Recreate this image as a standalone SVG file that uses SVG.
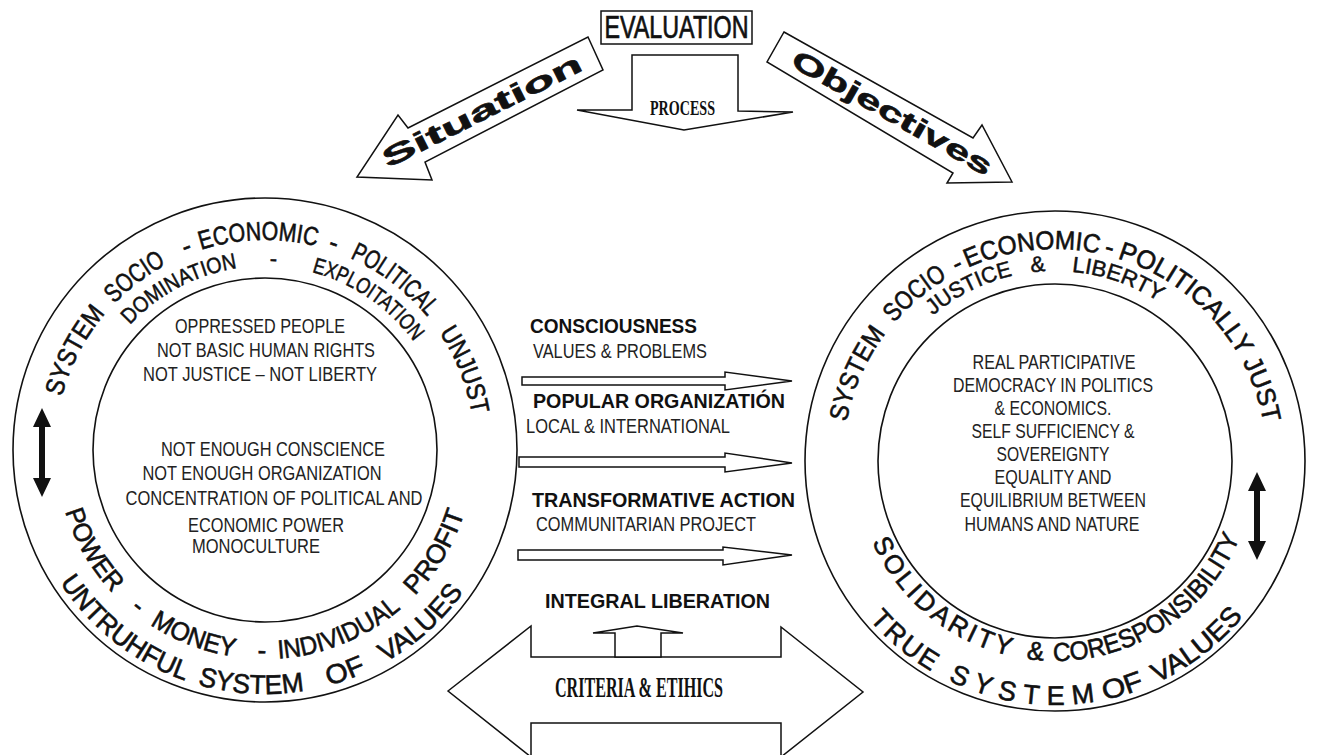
<svg xmlns="http://www.w3.org/2000/svg" width="1320" height="755" viewBox="0 0 1320 755">
<style>
.ring{fill:none;stroke:#111;stroke-width:1.6}
.rt{font-family:"Liberation Sans",Arial,sans-serif;font-size:26px;fill:#111;stroke:#111;stroke-width:0.6}
.rs{font-family:"Liberation Sans",Arial,sans-serif;font-size:22px;fill:#111;stroke:#111;stroke-width:0.5}
.rb{font-family:"Liberation Sans",Arial,sans-serif;font-size:27px;fill:#111;stroke:#111;stroke-width:0.6}
.in{font-family:"Liberation Sans",Arial,sans-serif;font-size:19.5px;fill:#222}
.lb{font-family:"Liberation Sans",Arial,sans-serif;font-size:19.5px;font-weight:bold;fill:#111}
.ser{font-family:"Liberation Serif","Times New Roman",serif;font-weight:bold;fill:#111}
.hol{fill:#fff;stroke:#111;stroke-width:1.5;stroke-linejoin:miter}
.blk{fill:#111;stroke:none}
.big{font-family:"Liberation Sans",Arial,sans-serif;font-weight:bold;font-size:27px;fill:#111;stroke:#111;stroke-width:0.6}
</style>
<defs>
<path id="lto" d="M265 660 A210 210 0 1 1 265 240 A210 210 0 1 1 265 660"/>
<path id="lti" d="M265 634 A184 184 0 1 1 265 266 A184 184 0 1 1 265 634"/>
<path id="lbo" d="M265 206 A244 244 0 1 0 265 694 A244 244 0 1 0 265 206"/>
<path id="lbi" d="M265 241 A209 209 0 1 0 265 659 A209 209 0 1 0 265 241"/>
<path id="rto" d="M1055 673 A212 212 0 1 1 1055 249 A212 212 0 1 1 1055 673"/>
<path id="rti" d="M1055 651 A190 190 0 1 1 1055 271 A190 190 0 1 1 1055 651"/>
<path id="rbi" d="M1055 261 A200 200 0 1 0 1055 661 A200 200 0 1 0 1055 261"/>
<path id="rbo" d="M1055 217 A244 244 0 1 0 1055 705 A244 244 0 1 0 1055 217"/>
</defs>
<rect width="1320" height="755" fill="#fff"/>

<g id="evaluation">
<rect x="601" y="11" width="151" height="33" fill="#fff" stroke="#111" stroke-width="1.5"/>
<text x="676.5" y="38" text-anchor="middle" font-family="Liberation Sans, Arial, sans-serif" font-size="31" fill="#111" stroke="#111" stroke-width="0.7" textLength="144" lengthAdjust="spacingAndGlyphs">EVALUATION</text>
</g>

<g id="process">
<polygon class="hol" points="632,55 738,55 738,111 793,112 684,130 577,110 632,110"/>
<text class="ser" x="682.5" y="115" text-anchor="middle" font-size="22" textLength="65" lengthAdjust="spacingAndGlyphs">PROCESS</text>
</g>

<g id="situation">
<polygon class="hol" points="588,37 603,70 425,162 432,180 357,177 398,115 408,128"/>
<text class="big" transform="translate(482,111) rotate(-26.7)" x="0" y="9" text-anchor="middle" textLength="220" lengthAdjust="spacingAndGlyphs">Situation</text>
</g>

<g id="objectives">
<polygon class="hol" points="784,32 973,138 982,125 1012,182 947,183 953,173 767,62"/>
<text class="big" transform="translate(892,113) rotate(29.5)" x="0" y="9" text-anchor="middle" textLength="226" lengthAdjust="spacingAndGlyphs">Objectives</text>
</g>

<g id="left-circle">
<circle class="ring" cx="265" cy="450" r="252"/>
<circle class="ring" cx="265" cy="450" r="172"/>
<text class="rt" text-anchor="middle"><textPath href="#lto" startOffset="431" textLength="95" lengthAdjust="spacingAndGlyphs">SYSTEM</textPath></text>
<text class="rt" text-anchor="middle"><textPath href="#lto" startOffset="524" textLength="65" lengthAdjust="spacingAndGlyphs">SOCIO</textPath></text>
<text class="rt" text-anchor="middle"><textPath href="#lto" startOffset="582">-</textPath></text>
<text class="rt" text-anchor="middle"><textPath href="#lto" startOffset="653" textLength="117" lengthAdjust="spacingAndGlyphs">ECONOMIC</textPath></text>
<text class="rt" text-anchor="middle"><textPath href="#lto" startOffset="727">-</textPath></text>
<text class="rt" text-anchor="middle"><textPath href="#lto" startOffset="796" textLength="98" lengthAdjust="spacingAndGlyphs">POLITICAL</textPath></text>
<text class="rt" text-anchor="middle"><textPath href="#lto" startOffset="909" textLength="89" lengthAdjust="spacingAndGlyphs">UNJUST</textPath></text>

<text class="rs" text-anchor="middle"><textPath href="#lti" startOffset="488" textLength="124" lengthAdjust="spacingAndGlyphs">DOMINATION</textPath></text>
<text class="rs" text-anchor="middle"><textPath href="#lti" startOffset="586">-</textPath></text>
<text class="rs" text-anchor="middle"><textPath href="#lti" startOffset="688" textLength="126" lengthAdjust="spacingAndGlyphs">EXPLOITATION</textPath></text>

<text class="rt" text-anchor="middle"><textPath href="#lbi" startOffset="438" textLength="95" lengthAdjust="spacingAndGlyphs">POWER</textPath></text>
<text class="rt" text-anchor="middle"><textPath href="#lbi" startOffset="514">-</textPath></text>
<text class="rt" text-anchor="middle"><textPath href="#lbi" startOffset="580" textLength="91" lengthAdjust="spacingAndGlyphs">MONEY</textPath></text>
<text class="rt" text-anchor="middle"><textPath href="#lbi" startOffset="653">-</textPath></text>
<text class="rt" text-anchor="middle"><textPath href="#lbi" startOffset="737" textLength="135" lengthAdjust="spacingAndGlyphs">INDIVIDUAL</textPath></text>
<text class="rt" text-anchor="middle"><textPath href="#lbi" startOffset="872" textLength="98" lengthAdjust="spacingAndGlyphs">PROFIT</textPath></text>

<text class="rb" text-anchor="middle"><textPath href="#lbo" startOffset="604" textLength="162" lengthAdjust="spacingAndGlyphs">UNTRUHFUL</textPath></text>
<text class="rb" text-anchor="middle"><textPath href="#lbo" startOffset="752" textLength="108" lengthAdjust="spacingAndGlyphs">SYSTEM</textPath></text>
<text class="rb" text-anchor="middle"><textPath href="#lbo" startOffset="851" textLength="40" lengthAdjust="spacingAndGlyphs">OF</textPath></text>
<text class="rb" text-anchor="middle"><textPath href="#lbo" startOffset="945" textLength="106" lengthAdjust="spacingAndGlyphs">VALUES</textPath></text>

<text class="in" x="260" y="333" text-anchor="middle" textLength="170" lengthAdjust="spacingAndGlyphs">OPPRESSED PEOPLE</text>
<text class="in" x="266" y="357" text-anchor="middle" textLength="218" lengthAdjust="spacingAndGlyphs">NOT BASIC HUMAN RIGHTS</text>
<text class="in" x="260" y="381" text-anchor="middle" textLength="234" lengthAdjust="spacingAndGlyphs">NOT JUSTICE – NOT LIBERTY</text>
<text class="in" x="273" y="456" text-anchor="middle" textLength="224" lengthAdjust="spacingAndGlyphs">NOT ENOUGH CONSCIENCE</text>
<text class="in" x="262" y="480" text-anchor="middle" textLength="239" lengthAdjust="spacingAndGlyphs">NOT ENOUGH ORGANIZATION</text>
<text class="in" x="274" y="505" text-anchor="middle" textLength="297" lengthAdjust="spacingAndGlyphs">CONCENTRATION OF POLITICAL AND</text>
<text class="in" x="266" y="532" text-anchor="middle" textLength="156" lengthAdjust="spacingAndGlyphs">ECONOMIC POWER</text>
<text class="in" x="256" y="553" text-anchor="middle" textLength="128" lengthAdjust="spacingAndGlyphs">MONOCULTURE</text>

<polygon class="blk" points="42,408 51,427 45,427 45,478 51,478 42,497 33,478 39,478 39,427 33,427"/>
</g>

<g id="right-circle">
<circle class="ring" cx="1055" cy="461" r="250"/>
<circle class="ring" cx="1055" cy="461" r="177"/>
<text class="rt" text-anchor="middle"><textPath href="#rto" startOffset="421" textLength="98" lengthAdjust="spacingAndGlyphs">SYSTEM</textPath></text>
<text class="rt" text-anchor="middle"><textPath href="#rto" startOffset="518" textLength="70" lengthAdjust="spacingAndGlyphs">SOCIO</textPath></text>
<text class="rt" text-anchor="middle"><textPath href="#rto" startOffset="568">-</textPath></text>
<text class="rt" text-anchor="middle"><textPath href="#rto" startOffset="643" textLength="134" lengthAdjust="spacingAndGlyphs">ECONOMIC</textPath></text>
<text class="rt" text-anchor="middle"><textPath href="#rto" startOffset="719">-</textPath></text>
<text class="rt" text-anchor="middle"><textPath href="#rto" startOffset="809" textLength="160" lengthAdjust="spacingAndGlyphs">POLITICALLY</textPath></text>
<text class="rt" text-anchor="middle"><textPath href="#rto" startOffset="928" textLength="65" lengthAdjust="spacingAndGlyphs">JUST</textPath></text>

<text class="rs" text-anchor="middle"><textPath href="#rti" startOffset="509" textLength="90" lengthAdjust="spacingAndGlyphs">JUSTICE</textPath></text>
<text class="rs" text-anchor="middle"><textPath href="#rti" startOffset="580">&amp;</textPath></text>
<text class="rs" text-anchor="middle"><textPath href="#rti" startOffset="660" textLength="93" lengthAdjust="spacingAndGlyphs">LIBERTY</textPath></text>

<text class="rt" font-size="28" text-anchor="middle"><textPath href="#rbi" startOffset="490" textLength="185" lengthAdjust="spacing">SOLIDARITY</textPath></text>
<text class="rt" font-size="28" text-anchor="middle"><textPath href="#rbi" startOffset="608">&amp;</textPath></text>
<text class="rt" font-size="28" text-anchor="middle"><textPath href="#rbi" startOffset="745" textLength="237" lengthAdjust="spacingAndGlyphs">CORESPONSIBILITY</textPath></text>

<text class="rb" text-anchor="middle"><textPath href="#rbo" startOffset="596" textLength="81" lengthAdjust="spacing">TRUE</textPath></text>
<text class="rb" text-anchor="middle"><textPath href="#rbo" startOffset="731" textLength="151" lengthAdjust="spacing">SYSTEM</textPath></text>
<text class="rb" text-anchor="middle"><textPath href="#rbo" startOffset="837" textLength="42" lengthAdjust="spacingAndGlyphs">OF</textPath></text>
<text class="rb" text-anchor="middle"><textPath href="#rbo" startOffset="926" textLength="110" lengthAdjust="spacingAndGlyphs">VALUES</textPath></text>

<text class="in" x="1054" y="369" text-anchor="middle" textLength="163" lengthAdjust="spacingAndGlyphs">REAL PARTICIPATIVE</text>
<text class="in" x="1053" y="392" text-anchor="middle" textLength="200" lengthAdjust="spacingAndGlyphs">DEMOCRACY IN POLITICS</text>
<text class="in" x="1053" y="415" text-anchor="middle" textLength="117" lengthAdjust="spacingAndGlyphs">&amp; ECONOMICS.</text>
<text class="in" x="1053" y="438" text-anchor="middle" textLength="163" lengthAdjust="spacingAndGlyphs">SELF SUFFICIENCY &amp;</text>
<text class="in" x="1053" y="461" text-anchor="middle" textLength="113" lengthAdjust="spacingAndGlyphs">SOVEREIGNTY</text>
<text class="in" x="1053" y="484" text-anchor="middle" textLength="117" lengthAdjust="spacingAndGlyphs">EQUALITY AND</text>
<text class="in" x="1053" y="507" text-anchor="middle" textLength="186" lengthAdjust="spacingAndGlyphs">EQUILIBRIUM BETWEEN</text>
<text class="in" x="1052" y="531" text-anchor="middle" textLength="175" lengthAdjust="spacingAndGlyphs">HUMANS AND NATURE</text>

<polygon class="blk" points="1257,472 1266,491 1260,491 1260,541 1266,541 1257,560 1248,541 1254,541 1254,491 1248,491"/>
</g>

<g id="middle-labels">
<text class="lb" x="530" y="333" textLength="167" lengthAdjust="spacingAndGlyphs">CONSCIOUSNESS</text>
<text class="in" x="533" y="358" textLength="174" lengthAdjust="spacingAndGlyphs">VALUES &amp; PROBLEMS</text>
<text class="lb" x="533" y="408" textLength="252" lengthAdjust="spacingAndGlyphs">POPULAR ORGANIZATIÓN</text>
<text class="in" x="526" y="433" textLength="204" lengthAdjust="spacingAndGlyphs">LOCAL &amp; INTERNATIONAL</text>
<text class="lb" x="532" y="507" textLength="263" lengthAdjust="spacingAndGlyphs">TRANSFORMATIVE ACTION</text>
<text class="in" x="536" y="531" textLength="220" lengthAdjust="spacingAndGlyphs">COMMUNITARIAN PROJECT</text>
<text class="lb" x="545" y="608" font-size="21" textLength="225" lengthAdjust="spacingAndGlyphs">INTEGRAL LIBERATION</text>
</g>

<g id="criteria">
<polygon class="hol" points="448,691 531,626 531,657 781,657 781,627 863,692 781,757 781,723 531,723 531,757"/>
<text class="ser" x="639" y="697" text-anchor="middle" font-size="30" textLength="168" lengthAdjust="spacingAndGlyphs">CRITERIA &amp; ETIHICS</text>
</g>

<g id="connectors">
<polygon class="hol" points="522,377 725,377 725,372 792,381 725,390 725,385 522,385"/>
<polygon class="hol" points="519,457 725,457 725,453 792,463 725,472 725,467 519,467"/>
<polygon class="hol" points="518,550 723,550 723,547 792,555 723,565 723,560 518,560"/>
<polygon class="hol" points="615,657 615,633 593,633 637,626 683,633 661,633 661,657"/>
</g>
</svg>
